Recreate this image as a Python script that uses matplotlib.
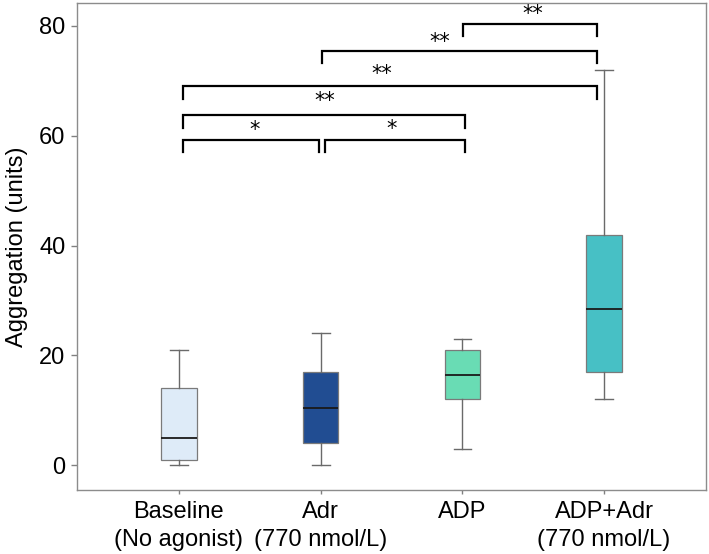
import matplotlib
matplotlib.use("Agg")
import matplotlib.pyplot as plt

plt.rcParams["font.family"] = ["Liberation Sans", "DejaVu Sans"]

# box statistics
groups = ["Baseline\n(No agonist)", "Adr\n(770 nmol/L)", "ADP", "ADP+Adr\n(770 nmol/L)"]
whislo = [0, 0, 3, 12]
q1 = [1, 4, 12, 17]
med = [5, 10.5, 16.5, 28.5]
q3 = [14, 17, 21, 42]
whishi = [21, 24, 23, 72]
fills = ["#deebf8", "#214d92", "#69dcb4", "#47c0c5"]

# significance brackets (x in category units, y in data units)
brk_left = [1.026, 2.030, 1.026, 1.026, 2.007, 3.002]
brk_right = [1.986, 3.018, 3.018, 3.952, 3.952, 3.952]
brk_y = [59.3, 59.3, 63.7, 69.0, 75.4, 80.4]
brk_label = ["*", "*", "**", "**", "**", "**"]
lab_x = [1.536, 2.501, 2.030, 2.430, 2.842, 3.500]
lab_y = [61.0, 61.2, 66.3, 71.2, 77.1, 82.2]

fig = plt.figure(figsize=(7.09, 5.54), dpi=100)
ax = fig.add_axes([0.108, 0.115, 0.888, 0.879])

stats = [dict(whislo=lo, q1=a, med=m, q3=b, whishi=hi, fliers=[])
         for lo, a, m, b, hi in zip(whislo, q1, med, q3, whishi)]
bp = ax.bxp(stats, positions=range(1, 5), widths=0.25, patch_artist=True,
            showfliers=False,
            boxprops=dict(edgecolor="#7a7a7a", linewidth=0.9),
            medianprops=dict(color="#1a1a1a", linewidth=1.3),
            whiskerprops=dict(color="#6a6a6a", linewidth=1.0),
            capprops=dict(color="#6a6a6a", linewidth=1.0))
for patch, c in zip(bp["boxes"], fills):
    patch.set_facecolor(c)

drop = 2.25
for x1, x2, y in zip(brk_left, brk_right, brk_y):
    ax.plot([x1, x1, x2, x2], [y - drop, y, y, y - drop], color="black",
            lw=1.6, solid_joinstyle="miter", clip_on=False)
for x, y, t in zip(lab_x, lab_y, brk_label):
    ax.text(x, y, t, ha="center", va="center", fontsize=15,
            family="DejaVu Sans")

ax.set_xlim(0.278, 4.72)
ax.set_ylim(-4.55, 84.1)
ax.set_yticks([0, 20, 40, 60, 80])
ax.set_xticks(range(1, 5))
ax.set_xticklabels(groups, linespacing=1.3)
ax.set_ylabel("Aggregation (units)", fontsize=17, labelpad=8)
ax.tick_params(axis="both", labelsize=17, color="#808080", length=4, width=1)
ax.tick_params(axis="x", length=3, pad=5)
ax.tick_params(axis="y", pad=4)
for s in ax.spines.values():
    s.set_color("#8c8c8c")
    s.set_linewidth(1.0)

fig.savefig("out.png", dpi=100)
